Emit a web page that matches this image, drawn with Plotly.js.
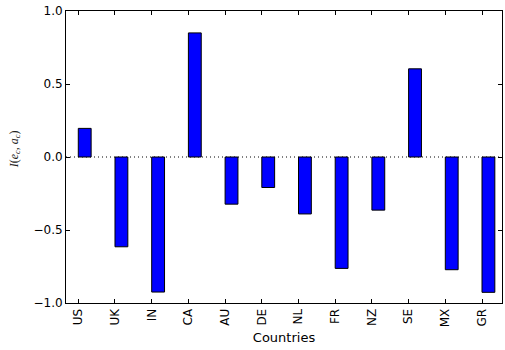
<!DOCTYPE html>
<html>
<head>
<meta charset="utf-8">
<script src="https://cdn.plot.ly/plotly-3.0.1.min.js"></script>
<style>html,body{margin:0;padding:0;background:#fff;}#chart{width:505px;height:350px;}</style>
</head>
<body>
<div id="chart"></div>
<script>
const countries = ["US","UK","IN","CA","AU","DE","NL","FR","NZ","SE","MX","GR"];
const values = [0.196, -0.615, -0.925, 0.85, -0.323, -0.209, -0.39, -0.763, -0.364, 0.604, -0.772, -0.927];
const yTicks = [-1.0, -0.5, 0.0, 0.5, 1.0];

const barWidth = 0.35;
const positions = countries.map((c, i) => i);
const barCenters = positions.map(p => p + barWidth / 2);

const axisCommon = {
  showline: true, linecolor: '#000', linewidth: 1, mirror: 'ticks',
  ticks: 'inside', ticklen: 4, tickwidth: 1, tickcolor: '#000',
  showgrid: false, zeroline: false,
  tickfont: {family: 'DejaVu Sans', size: 12, color: '#000'}
};

const data = [{
  type: 'bar',
  x: barCenters,
  y: values,
  width: barWidth,
  marker: {color: '#0000ff', line: {color: '#000', width: 1}},
  hoverinfo: 'skip'
}];

const layout = {
  width: 505, height: 350,
  margin: {l: 66, r: 3, t: 11, b: 47},
  paper_bgcolor: '#fff', plot_bgcolor: '#fff',
  showlegend: false,
  xaxis: Object.assign({}, axisCommon, {
    range: [-0.335, 11.545],
    tickvals: positions,
    ticktext: countries,
    tickangle: -90,
    title: {text: 'Countries', font: {family: 'DejaVu Sans', size: 13, color: '#000'}, standoff: 6}
  }),
  yaxis: Object.assign({}, axisCommon, {
    range: [-1, 1],
    tickvals: yTicks,
    tickformat: '.1f'
  }),
  annotations: [{
    text: '<i>I</i>(<i>e</i><sub><i>c</i></sub>, <i>a</i><sub><i>c</i></sub>)',
    xref: 'paper', yref: 'paper', x: -0.118, y: 0.525,
    xanchor: 'center', yanchor: 'middle', textangle: -90, showarrow: false,
    font: {family: 'Liberation Serif', size: 12, color: '#222'}
  }],
  shapes: [{
    type: 'line', xref: 'paper', yref: 'y', x0: 0, x1: 1, y0: 0, y1: 0,
    line: {color: '#000', width: 1, dash: '1px,3px'}, layer: 'below'
  }]
};

Plotly.newPlot('chart', data, layout, {displayModeBar: false, staticPlot: true});
</script>
</body>
</html>
